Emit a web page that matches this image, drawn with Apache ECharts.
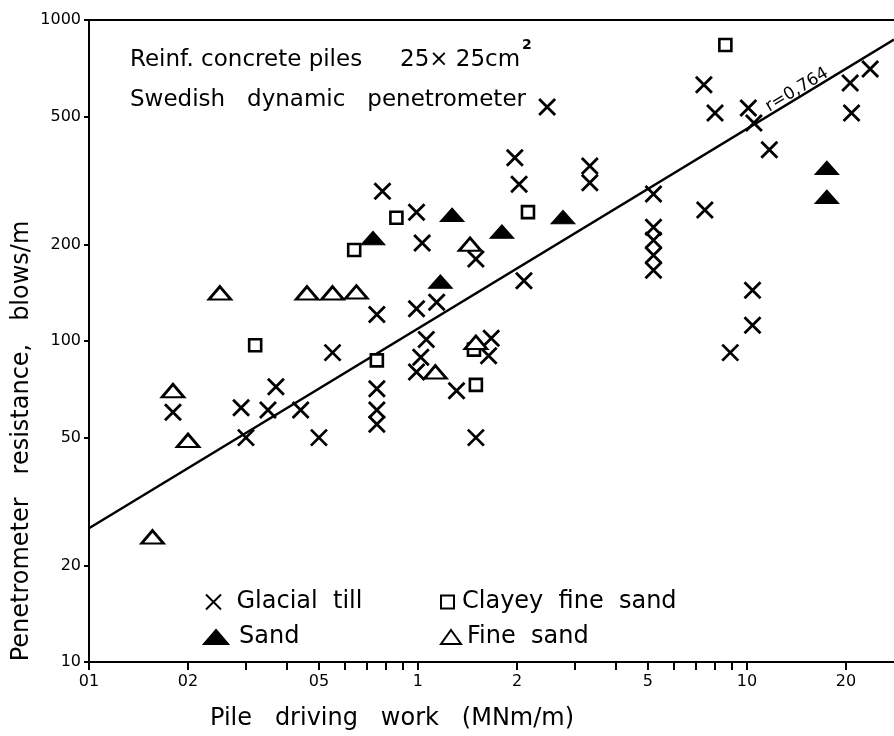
<!DOCTYPE html>
<html><head><meta charset="utf-8">
<script src="https://cdn.jsdelivr.net/npm/echarts@6/dist/echarts.min.js"></script>
<style>html,body{margin:0;padding:0;background:#fff}#c{width:894px;height:736px}</style>
</head><body><div id="c"></div>
<script>
// ---- axis ticks / labels ----
const xLabelValues = [0.1, 0.2, 0.5, 1, 2, 5, 10, 20];
const xLabelTexts  = ['01', '02', '05', '1', '2', '5', '10', '20'];
const xTickValues  = [0.1,0.2,0.3,0.4,0.5,0.6,0.7,0.8,0.9,1,2,3,4,5,6,7,8,9,10,20];
const yLabelValues = [10, 20, 50, 100, 200, 500, 1000];
const yLabelTexts  = ['10', '20', '50', '100', '200', '500', '1000'];

// ---- data: Glacial till ----
const tillX = [0.18,0.29,0.30,0.35,0.37,0.44,0.50,0.55,0.75,0.75,0.75,0.75,0.78,0.99,1.03,0.99,1.14,1.06,1.02,0.99,1.31,1.50,1.67,1.64,1.50,2.10,1.97,2.03,3.33,3.33,2.47,5.2,5.2,5.2,5.2,5.2,7.45,7.4,8.0,10.1,10.5,11.7,8.9,10.4,10.4,20.6,23.7,20.8];
const tillY = [60,62,50,61,72,61,50,92,121,71,61,55,293,252,202,126,132,101,89,80,70,50,102,90,180,154,372,308,351,311,536,287,226,206,185,166,256,628,513,532,478,394,92,112,144,636,704,513];
// ---- Clayey fine sand ----
const clayX = [0.32,0.64,0.86,0.75,2.16,1.48,1.50,8.6];
const clayY = [97,192,242,87,252,94,73,836];
// ---- Sand ----
const sandX = [0.73,1.27,1.80,1.17,2.76,17.5,17.5];
const sandY = [209,247,219,153,243,346,281];
// ---- Fine sand ----
const fineX = [0.25,0.46,0.55,0.65,0.18,0.20,0.156,1.44,1.13,1.50];
const fineY = [141,141,141,142,70,49,24.5,200,80,99];
// ---- regression line (r = 0.764) end points ----
const regX = [0.1, 28];
const regY = [26.1, 869];

const zip = (xs, ys) => xs.map((x, i) => [x, ys[i]]);
const FONT = '"DejaVu Sans", sans-serif';
const crossPath = 'path://M0,0L10,10M10,0L0,10';

const chart = echarts.init(document.getElementById('c'), null, {renderer: 'canvas'});
const legendText = {fontFamily: FONT, fontSize: 24, color: '#000'};
const lg = (name, left, top, w, h, pad) => ({
  data: [name], left: left, top: top, padding: 0, itemWidth: w, itemHeight: h,
  formatter: n => n.replace(/ /g, '  '),
  textStyle: Object.assign({padding: [0, 0, 0, pad]}, legendText), selectedMode: false
});
chart.setOption({
  animation: false,
  backgroundColor: '#fff',
  textStyle: {fontFamily: FONT, color: '#000'},
  grid: {left: 89, right: 0, top: 20, bottom: 74},
  xAxis: [{
    type: 'log', logBase: 10, min: 0.1, max: 28,
    axisLine: {lineStyle: {color: '#000', width: 2}},
    axisTick: {show: true, length: 8, lineStyle: {color: '#000', width: 2}, customValues: xTickValues},
    axisLabel: {
      customValues: xLabelValues, margin: 12,
      fontFamily: FONT, fontSize: 16, color: '#000',
      formatter: v => { const i = xLabelValues.findIndex(t => Math.abs(t - v) < 1e-9); return i >= 0 ? xLabelTexts[i] : ''; }
    },
    splitLine: {show: false}, minorTick: {show: false}
  }, {
    type: 'log', logBase: 10, min: 0.1, max: 28, position: 'top',
    axisLine: {lineStyle: {color: '#000', width: 2}},
    axisTick: {show: false}, axisLabel: {show: false}, splitLine: {show: false}
  }],
  yAxis: {
    type: 'log', logBase: 10, min: 10, max: 1000,
    axisLine: {lineStyle: {color: '#000', width: 2}},
    axisTick: {show: true, length: 5, lineStyle: {color: '#000', width: 2}, customValues: yLabelValues},
    axisLabel: {
      customValues: yLabelValues, margin: 8,
      fontFamily: FONT, fontSize: 16, color: '#000',
      formatter: v => { const i = yLabelValues.findIndex(t => Math.abs(t - v) < 1e-9); return i >= 0 ? yLabelTexts[i] : ''; }
    },
    splitLine: {show: false}
  },
  legend: [
    lg('Glacial till', 205, 590, 16, 15, 10),
    lg('Clayey fine sand', 440, 590, 13, 13, 3),
    lg('Sand', 203, 625, 24, 14, 6),
    lg('Fine sand', 440, 625, 20, 14, 1)
  ],
  series: [
    {
      name: 'Regression', type: 'line', data: zip(regX, regY), symbol: 'none',
      lineStyle: {color: '#000', width: 2.5}, z: 1, silent: true
    },
    {
      name: 'Glacial till', type: 'scatter', data: zip(tillX, tillY),
      symbol: crossPath, symbolSize: 16,
      itemStyle: {color: 'rgba(0,0,0,0)', borderColor: '#000', borderWidth: 2.8, opacity: 1}, z: 3
    },
    {
      name: 'Clayey fine sand', type: 'scatter', data: zip(clayX, clayY),
      symbol: 'rect', symbolSize: 12,
      itemStyle: {color: '#fff', borderColor: '#000', borderWidth: 2.6, opacity: 1}, z: 3
    },
    {
      name: 'Sand', type: 'scatter', data: zip(sandX, sandY),
      symbol: 'triangle', symbolSize: [23, 13],
      itemStyle: {color: '#000', borderColor: '#000', borderWidth: 1.5, opacity: 1}, z: 3
    },
    {
      name: 'Fine sand', type: 'scatter', data: zip(fineX, fineY),
      symbol: 'triangle', symbolSize: [22, 13],
      itemStyle: {color: '#fff', borderColor: '#000', borderWidth: 2.6, opacity: 1}, z: 3
    }
  ],
  graphic: [
    {type: 'text', x: 130, y: 60, style: {text: 'Reinf. concrete piles', font: '23px ' + FONT, fill: '#000', verticalAlign: 'middle'}},
    {type: 'text', x: 400, y: 60, style: {text: '25× 25cm', font: '23px ' + FONT, fill: '#000', verticalAlign: 'middle'}},
    {type: 'text', x: 522, y: 45, style: {text: '2', font: 'bold 14px ' + FONT, fill: '#000', verticalAlign: 'middle'}},
    {type: 'text', x: 130, y: 100, style: {text: 'Swedish   dynamic   penetrometer', font: '23px ' + FONT, fill: '#000', verticalAlign: 'middle'}},
    {type: 'text', x: 797, y: 90, rotation: 31 * Math.PI / 180, style: {text: 'r=0,764', font: '17px ' + FONT, fill: '#000', align: 'center', verticalAlign: 'middle'}},
    {type: 'text', x: 22, y: 441, rotation: Math.PI / 2, style: {text: 'Penetrometer   resistance,   blows/m', font: '24px ' + FONT, fill: '#000', align: 'center', verticalAlign: 'middle'}},
    {type: 'text', x: 392, y: 719, style: {text: 'Pile   driving   work   (MNm/m)', font: '24px ' + FONT, fill: '#000', align: 'center', verticalAlign: 'middle'}}
  ]
});
</script>
</body></html>
